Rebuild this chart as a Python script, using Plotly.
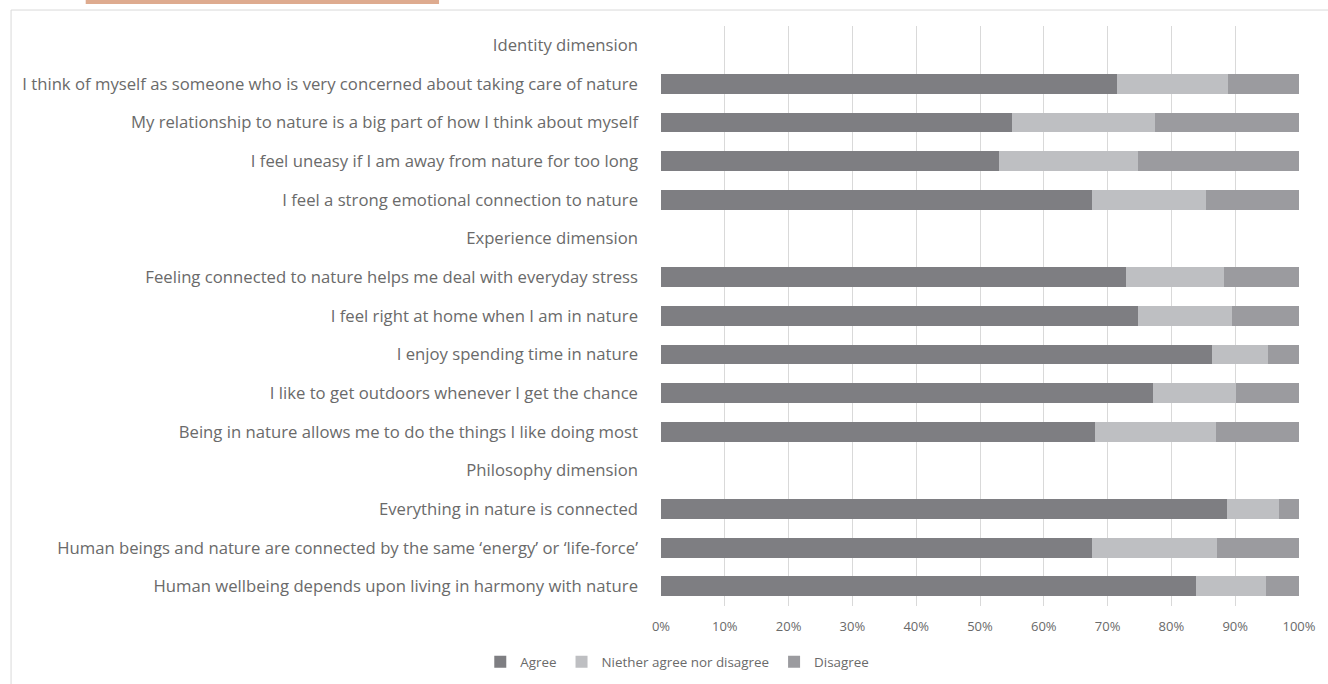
import plotly.graph_objects as go

# Statements, top to bottom; dimension headings carry no values
statements = [
    "Identity dimension",
    "I think of myself as someone who is very concerned about taking care of nature",
    "My relationship to nature is a big part of how I think about myself",
    "I feel uneasy if I am away from nature for too long",
    "I feel a strong emotional connection to nature",
    "Experience dimension",
    "Feeling connected to nature helps me deal with everyday stress",
    "I feel right at home when I am in nature",
    "I enjoy spending time in nature",
    "I like to get outdoors whenever I get the chance",
    "Being in nature allows me to do the things I like doing most",
    "Philosophy dimension",
    "Everything in nature is connected",
    "Human beings and nature are connected by the same \u2018energy\u2019 or \u2018life-force\u2019",
    "Human wellbeing depends upon living in harmony with nature",
]

agree = [None, 71.5, 55.0, 53.0, 67.5, None, 72.9, 74.7, 86.3, 77.1, 68.1, None, 88.7, 67.6, 83.8]
neither = [None, 17.3, 22.5, 21.7, 18.0, None, 15.4, 14.8, 8.9, 13.1, 18.9, None, 8.1, 19.5, 11.0]
disagree = [None, 11.2, 22.5, 25.3, 14.5, None, 11.7, 10.5, 4.8, 9.8, 13.0, None, 3.2, 12.9, 5.2]

series = [
    ("Agree", agree, "#7e7e82"),
    ("Niether agree nor disagree", neither, "#bebfc2"),
    ("Disagree", disagree, "#9b9b9f"),
]

text_grey = "#6a6a6a"

fig = go.Figure()
for name, vals, color in series:
    fig.add_trace(go.Bar(
        y=statements, x=vals, name=name, orientation="h",
        marker=dict(color=color, line=dict(width=0)),
    ))

W, H = 1328, 684
ml, mr, mt, mb = 661, 26, 26, 77
pw, ph = W - ml - mr, H - mt - mb


def px_x(p):
    return (p - ml) / pw


def px_y(p):
    return (H - mb - p) / ph


fig.update_layout(
    width=W, height=H,
    margin=dict(l=ml, r=mr, t=mt, b=mb),
    barmode="stack", bargap=0.49,
    paper_bgcolor="white", plot_bgcolor="white",
    font=dict(family="Open Sans, sans-serif", color=text_grey),
    xaxis=dict(
        range=[0, 100], dtick=10, ticksuffix="%",
        showgrid=True, gridcolor="#d9d9d9", gridwidth=1,
        zeroline=False, showline=False,
        tickfont=dict(size=13, color=text_grey), ticks="",
        ticklabelstandoff=11,
    ),
    yaxis=dict(
        autorange="reversed", showgrid=False, showline=False,
        tickfont=dict(size=16.7, color=text_grey), ticks="",
        ticklabelstandoff=22,
    ),
    legend=dict(
        orientation="h", xref="container", x=0.51, xanchor="center",
        yref="container", y=0.032, yanchor="middle",
        font=dict(size=13.4, color=text_grey), traceorder="normal",
        itemwidth=30,
    ),
    shapes=[
        dict(type="rect", xref="paper", yref="paper",
             x0=px_x(8), x1=px_x(1340), y0=px_y(700), y1=px_y(10),
             line=dict(color="#d9d9d9", width=1), fillcolor="rgba(0,0,0,0)",
             layer="below"),
        dict(type="rect", xref="paper", yref="paper",
             x0=px_x(83), x1=px_x(438), y0=px_y(4), y1=px_y(-2),
             line=dict(width=0), fillcolor="#deab8f"),
    ],
)

fig.write_html("out.html")
